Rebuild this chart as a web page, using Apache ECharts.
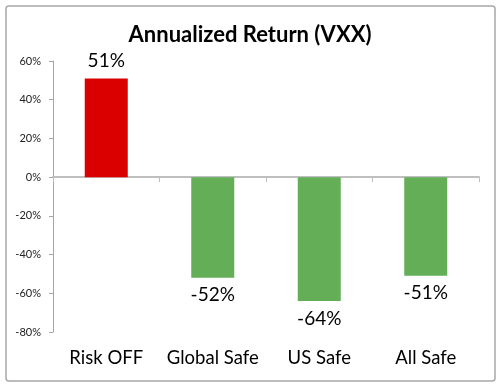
<!DOCTYPE html>
<html><head><meta charset="utf-8">
<script src="https://cdn.jsdelivr.net/npm/echarts@6/dist/echarts.min.js"></script>
<style>html,body{margin:0;padding:0;background:#fff}#c{width:500px;height:388px}</style>
</head><body><div id="c"></div>
<script>
const categories = ['Risk OFF', 'Global Safe', 'US Safe', 'All Safe'];
const returns = [51, -52, -64, -51];
const barColors = ['#DA0000', '#63AE57', '#63AE57', '#63AE57'];
const yTicks = [-80, -60, -40, -20, 0, 20, 40, 60];
const titleText = 'Annualized Return (VXX)';

const font = 'Lato, "Open Sans", sans-serif';
const chart = echarts.init(document.getElementById('c'), null, {renderer: 'canvas'});
chart.setOption({
  animation: false,
  title: {text: titleText, left: 'center', top: 19,
    textStyle: {fontFamily: font, fontWeight: 'bold', fontSize: 22, color: '#000'}},
  graphic: [{type: 'rect', shape: {x: 6, y: 6, width: 489, height: 375, r: 3},
    style: {fill: 'none', stroke: '#a8a8a8', lineWidth: 1.5}, z: 100}],
  grid: {left: 53, right: 21, top: 61, bottom: 56},
  xAxis: [{
    type: 'category', data: categories,
    axisLine: {onZero: true, lineStyle: {color: '#bfbfbf', width: 2}},
    axisTick: {show: true, length: 5, lineStyle: {color: '#bfbfbf', width: 1}},
    axisLabel: {show: false}
  }, {
    type: 'category', data: categories, position: 'bottom',
    axisLine: {show: false, onZero: false}, axisTick: {show: false},
    axisLabel: {interval: 0, margin: 17, fontFamily: font, fontSize: 18.5, color: '#000'}
  }],
  yAxis: {
    type: 'value', min: yTicks[0], max: yTicks[yTicks.length - 1], interval: 20,
    axisLine: {show: true, lineStyle: {color: '#a6a6a6', width: 1}},
    axisTick: {show: true, length: 4, lineStyle: {color: '#a6a6a6'}},
    splitLine: {show: false},
    axisLabel: {margin: 12, fontFamily: font, fontSize: 11, color: '#222',
      formatter: v => v + '%'}
  },
  series: [{
    type: 'bar', xAxisIndex: 0, barWidth: 43,
    data: returns.map((v, i) => ({value: v, itemStyle: {color: barColors[i]},
      label: {position: v >= 0 ? 'top' : 'bottom'}})),
    label: {show: true, distance: 8, fontFamily: font, fontSize: 19, color: '#000',
      formatter: p => p.value + '%'}
  }]
});
</script></body></html>
